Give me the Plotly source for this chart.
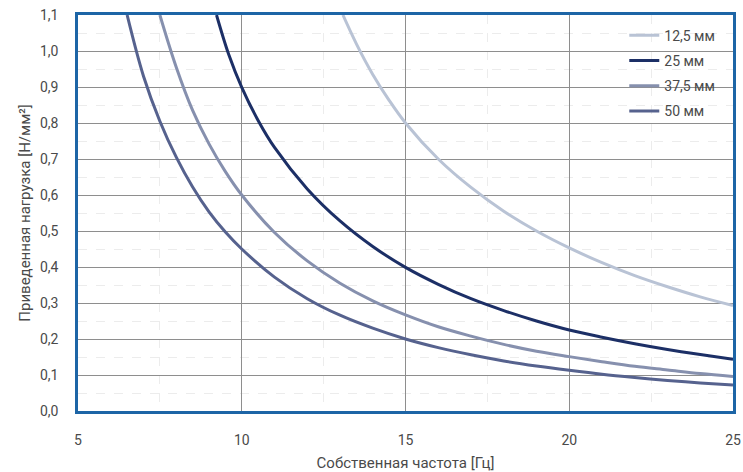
import plotly.graph_objects as go

# Natural frequency (Hz) vs. reduced load (N/mm²) for four layer thicknesses
x_12_5 = [13.09, 13.5, 14.0, 14.5, 15.0, 16.0, 17.0, 18.0, 19.0, 20.0, 21.0, 22.0, 23.0, 24.0, 25.0]
y_12_5 = [1.1, 1.02, 0.935, 0.863, 0.8, 0.7, 0.621, 0.555, 0.5, 0.453, 0.412, 0.376, 0.345, 0.317, 0.293]

x_25 = [9.23, 9.6, 10.0, 10.5, 11.0, 12.0, 13.0, 14.0, 15.0, 16.0, 17.0, 18.0, 19.0, 20.0, 21.0, 22.0, 23.0, 24.0, 25.0]
y_25 = [1.1, 0.991, 0.899, 0.807, 0.732, 0.617, 0.528, 0.457, 0.399, 0.352, 0.312, 0.279, 0.25, 0.225, 0.205, 0.187, 0.171, 0.157, 0.144]

x_37_5 = [7.5, 8.0, 8.5, 9.0, 9.5, 10.0, 11.0, 12.0, 13.0, 14.0, 15.0, 16.0, 17.0, 18.0, 19.0, 20.0, 21.0, 22.0, 23.0, 24.0, 25.0]
y_37_5 = [1.1, 0.955, 0.835, 0.742, 0.665, 0.6, 0.496, 0.417, 0.355, 0.306, 0.267, 0.234, 0.208, 0.185, 0.166, 0.151, 0.137, 0.124, 0.114, 0.104, 0.096]

x_50 = [6.5, 7.0, 7.5, 8.0, 8.5, 9.0, 9.5, 10.0, 11.0, 12.0, 13.0, 14.0, 15.0, 16.0, 17.0, 18.0, 19.0, 20.0, 21.0, 22.0, 23.0, 24.0, 25.0]
y_50 = [1.1, 0.93, 0.805, 0.705, 0.622, 0.553, 0.497, 0.45, 0.372, 0.312, 0.266, 0.23, 0.2, 0.176, 0.156, 0.139, 0.125, 0.113, 0.102, 0.093, 0.085, 0.078, 0.072]

series = [
    ("12,5 мм", x_12_5, y_12_5, "#b9c3d5"),
    ("25 мм", x_25, y_25, "#1c2f66"),
    ("37,5 мм", x_37_5, y_37_5, "#8690ae"),
    ("50 мм", x_50, y_50, "#56628e"),
]

FONT = "Roboto, 'Noto Sans', sans-serif"
TEXT = "#4a4a4a"

fig = go.Figure()
for name, xs, ys, color in series:
    fig.add_trace(go.Scatter(
        x=xs, y=ys, name=name, mode="lines", legendgroup=name,
        line=dict(color=color, width=3, shape="spline", smoothing=1.0),
    ))

axis_common = dict(
    showline=True, mirror=True, linecolor="#1d65a6", linewidth=2.5,
    showgrid=True, gridcolor="#8e8e8e", gridwidth=1,
    zeroline=False, automargin=False,
    ticks="outside", ticklen=14, tickcolor="rgba(0,0,0,0)",
    tickfont=dict(family=FONT, size=14, color=TEXT),
)

fig.update_xaxes(
    range=[5, 25], tick0=5, dtick=5,
    minor=dict(dtick=2.5, showgrid=True, gridcolor="#ececec", griddash="dash", gridwidth=1),
    title=dict(text="Собственная частота [Гц]", font=dict(family=FONT, size=15, color=TEXT), standoff=12),
    **axis_common,
)
fig.update_yaxes(
    range=[0, 1.1], tick0=0, dtick=0.1, tickformat=".1f",
    minor=dict(dtick=0.05, showgrid=True, gridcolor="#ececec", griddash="dash", gridwidth=1),
    title=dict(text="Приведенная нагрузка [Н/мм²]", font=dict(family=FONT, size=15, color=TEXT), standoff=6),
    **axis_common,
)

fig.update_layout(
    width=743, height=472,
    margin=dict(l=78, r=10, t=15, b=61),
    separators=", ",
    paper_bgcolor="white", plot_bgcolor="white",
    font=dict(family=FONT, size=14, color=TEXT),
    legend=dict(
        x=0.834, y=0.988, xanchor="left", yanchor="top",
        bgcolor="rgba(0,0,0,0)", borderwidth=0,
        tracegroupgap=4,
        font=dict(family=FONT, size=14, color=TEXT),
    ),
)

fig.write_html("out.html")
